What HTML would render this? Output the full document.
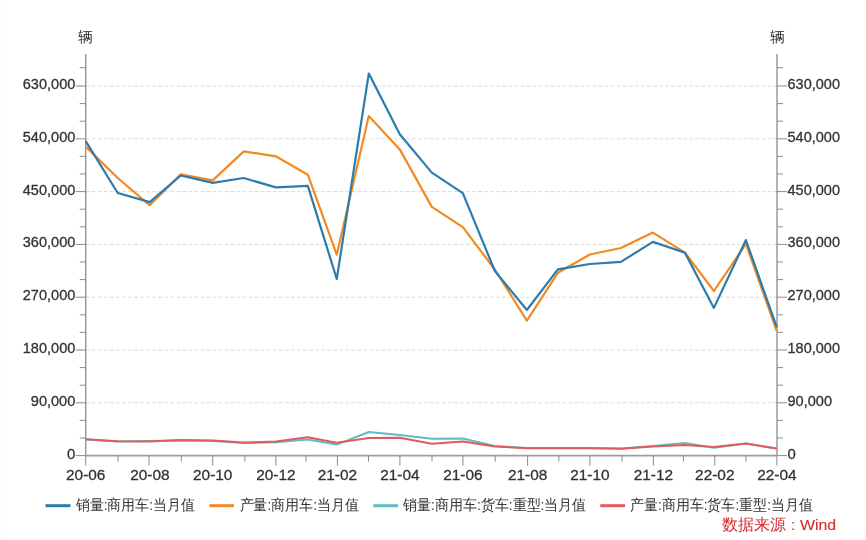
<!DOCTYPE html><html><head><meta charset="utf-8"><style>html,body{margin:0;padding:0;background:#fff;width:866px;height:540px;overflow:hidden}svg{display:block;will-change:transform}text{font-family:"Liberation Sans",sans-serif;fill:#333;stroke:#333;stroke-width:0.3}</style></head><body>
<svg width="866" height="540" viewBox="0 0 866 540">
<rect width="866" height="540" fill="#fff"/><rect x="0" y="0" width="1" height="540" fill="#fafbfd"/>
<line x1="85.7" y1="402.80" x2="777.0" y2="402.80" stroke="#dcdcdc" stroke-width="1" stroke-dasharray="4 2.035"/>
<line x1="85.7" y1="350.00" x2="777.0" y2="350.00" stroke="#dcdcdc" stroke-width="1" stroke-dasharray="4 2.035"/>
<line x1="85.7" y1="297.20" x2="777.0" y2="297.20" stroke="#dcdcdc" stroke-width="1" stroke-dasharray="4 2.035"/>
<line x1="85.7" y1="244.40" x2="777.0" y2="244.40" stroke="#dcdcdc" stroke-width="1" stroke-dasharray="4 2.035"/>
<line x1="85.7" y1="191.60" x2="777.0" y2="191.60" stroke="#dcdcdc" stroke-width="1" stroke-dasharray="4 2.035"/>
<line x1="85.7" y1="138.80" x2="777.0" y2="138.80" stroke="#dcdcdc" stroke-width="1" stroke-dasharray="4 2.035"/>
<line x1="85.7" y1="86.00" x2="777.0" y2="86.00" stroke="#dcdcdc" stroke-width="1" stroke-dasharray="4 2.035"/>
<line x1="85.7" y1="54" x2="85.7" y2="455.6" stroke="#8c8c8c" stroke-width="1.3"/>
<line x1="777.0" y1="54" x2="777.0" y2="455.6" stroke="#8c8c8c" stroke-width="1.3"/>
<line x1="85.7" y1="455.65000000000003" x2="777.0" y2="455.65000000000003" stroke="#9c9c9c" stroke-width="1.7"/>
<line x1="75.7" y1="455.60" x2="85.7" y2="455.60" stroke="#8c8c8c" stroke-width="1"/>
<line x1="777.0" y1="455.60" x2="787.0" y2="455.60" stroke="#8c8c8c" stroke-width="1"/>
<text x="67.00" y="458.60" font-size="15" textLength="8.3" lengthAdjust="spacingAndGlyphs">0</text>
<text x="787.5" y="458.60" font-size="15" textLength="8.3" lengthAdjust="spacingAndGlyphs">0</text>
<line x1="79.7" y1="438.00" x2="85.7" y2="438.00" stroke="#8c8c8c" stroke-width="1"/>
<line x1="777.0" y1="438.00" x2="783.0" y2="438.00" stroke="#8c8c8c" stroke-width="1"/>
<line x1="79.7" y1="420.40" x2="85.7" y2="420.40" stroke="#8c8c8c" stroke-width="1"/>
<line x1="777.0" y1="420.40" x2="783.0" y2="420.40" stroke="#8c8c8c" stroke-width="1"/>
<line x1="75.7" y1="402.80" x2="85.7" y2="402.80" stroke="#8c8c8c" stroke-width="1"/>
<line x1="777.0" y1="402.80" x2="787.0" y2="402.80" stroke="#8c8c8c" stroke-width="1"/>
<text x="30.80" y="405.80" font-size="15" textLength="44.5" lengthAdjust="spacingAndGlyphs">90,000</text>
<text x="787.5" y="405.80" font-size="15" textLength="44.5" lengthAdjust="spacingAndGlyphs">90,000</text>
<line x1="79.7" y1="385.20" x2="85.7" y2="385.20" stroke="#8c8c8c" stroke-width="1"/>
<line x1="777.0" y1="385.20" x2="783.0" y2="385.20" stroke="#8c8c8c" stroke-width="1"/>
<line x1="79.7" y1="367.60" x2="85.7" y2="367.60" stroke="#8c8c8c" stroke-width="1"/>
<line x1="777.0" y1="367.60" x2="783.0" y2="367.60" stroke="#8c8c8c" stroke-width="1"/>
<line x1="75.7" y1="350.00" x2="85.7" y2="350.00" stroke="#8c8c8c" stroke-width="1"/>
<line x1="777.0" y1="350.00" x2="787.0" y2="350.00" stroke="#8c8c8c" stroke-width="1"/>
<text x="22.80" y="353.00" font-size="15" textLength="52.5" lengthAdjust="spacingAndGlyphs">180,000</text>
<text x="787.5" y="353.00" font-size="15" textLength="52.5" lengthAdjust="spacingAndGlyphs">180,000</text>
<line x1="79.7" y1="332.40" x2="85.7" y2="332.40" stroke="#8c8c8c" stroke-width="1"/>
<line x1="777.0" y1="332.40" x2="783.0" y2="332.40" stroke="#8c8c8c" stroke-width="1"/>
<line x1="79.7" y1="314.80" x2="85.7" y2="314.80" stroke="#8c8c8c" stroke-width="1"/>
<line x1="777.0" y1="314.80" x2="783.0" y2="314.80" stroke="#8c8c8c" stroke-width="1"/>
<line x1="75.7" y1="297.20" x2="85.7" y2="297.20" stroke="#8c8c8c" stroke-width="1"/>
<line x1="777.0" y1="297.20" x2="787.0" y2="297.20" stroke="#8c8c8c" stroke-width="1"/>
<text x="22.80" y="300.20" font-size="15" textLength="52.5" lengthAdjust="spacingAndGlyphs">270,000</text>
<text x="787.5" y="300.20" font-size="15" textLength="52.5" lengthAdjust="spacingAndGlyphs">270,000</text>
<line x1="79.7" y1="279.60" x2="85.7" y2="279.60" stroke="#8c8c8c" stroke-width="1"/>
<line x1="777.0" y1="279.60" x2="783.0" y2="279.60" stroke="#8c8c8c" stroke-width="1"/>
<line x1="79.7" y1="262.00" x2="85.7" y2="262.00" stroke="#8c8c8c" stroke-width="1"/>
<line x1="777.0" y1="262.00" x2="783.0" y2="262.00" stroke="#8c8c8c" stroke-width="1"/>
<line x1="75.7" y1="244.40" x2="85.7" y2="244.40" stroke="#8c8c8c" stroke-width="1"/>
<line x1="777.0" y1="244.40" x2="787.0" y2="244.40" stroke="#8c8c8c" stroke-width="1"/>
<text x="22.80" y="247.40" font-size="15" textLength="52.5" lengthAdjust="spacingAndGlyphs">360,000</text>
<text x="787.5" y="247.40" font-size="15" textLength="52.5" lengthAdjust="spacingAndGlyphs">360,000</text>
<line x1="79.7" y1="226.80" x2="85.7" y2="226.80" stroke="#8c8c8c" stroke-width="1"/>
<line x1="777.0" y1="226.80" x2="783.0" y2="226.80" stroke="#8c8c8c" stroke-width="1"/>
<line x1="79.7" y1="209.20" x2="85.7" y2="209.20" stroke="#8c8c8c" stroke-width="1"/>
<line x1="777.0" y1="209.20" x2="783.0" y2="209.20" stroke="#8c8c8c" stroke-width="1"/>
<line x1="75.7" y1="191.60" x2="85.7" y2="191.60" stroke="#8c8c8c" stroke-width="1"/>
<line x1="777.0" y1="191.60" x2="787.0" y2="191.60" stroke="#8c8c8c" stroke-width="1"/>
<text x="22.80" y="194.60" font-size="15" textLength="52.5" lengthAdjust="spacingAndGlyphs">450,000</text>
<text x="787.5" y="194.60" font-size="15" textLength="52.5" lengthAdjust="spacingAndGlyphs">450,000</text>
<line x1="79.7" y1="174.00" x2="85.7" y2="174.00" stroke="#8c8c8c" stroke-width="1"/>
<line x1="777.0" y1="174.00" x2="783.0" y2="174.00" stroke="#8c8c8c" stroke-width="1"/>
<line x1="79.7" y1="156.40" x2="85.7" y2="156.40" stroke="#8c8c8c" stroke-width="1"/>
<line x1="777.0" y1="156.40" x2="783.0" y2="156.40" stroke="#8c8c8c" stroke-width="1"/>
<line x1="75.7" y1="138.80" x2="85.7" y2="138.80" stroke="#8c8c8c" stroke-width="1"/>
<line x1="777.0" y1="138.80" x2="787.0" y2="138.80" stroke="#8c8c8c" stroke-width="1"/>
<text x="22.80" y="141.80" font-size="15" textLength="52.5" lengthAdjust="spacingAndGlyphs">540,000</text>
<text x="787.5" y="141.80" font-size="15" textLength="52.5" lengthAdjust="spacingAndGlyphs">540,000</text>
<line x1="79.7" y1="121.20" x2="85.7" y2="121.20" stroke="#8c8c8c" stroke-width="1"/>
<line x1="777.0" y1="121.20" x2="783.0" y2="121.20" stroke="#8c8c8c" stroke-width="1"/>
<line x1="79.7" y1="103.60" x2="85.7" y2="103.60" stroke="#8c8c8c" stroke-width="1"/>
<line x1="777.0" y1="103.60" x2="783.0" y2="103.60" stroke="#8c8c8c" stroke-width="1"/>
<line x1="75.7" y1="86.00" x2="85.7" y2="86.00" stroke="#8c8c8c" stroke-width="1"/>
<line x1="777.0" y1="86.00" x2="787.0" y2="86.00" stroke="#8c8c8c" stroke-width="1"/>
<text x="22.80" y="89.00" font-size="15" textLength="52.5" lengthAdjust="spacingAndGlyphs">630,000</text>
<text x="787.5" y="89.00" font-size="15" textLength="52.5" lengthAdjust="spacingAndGlyphs">630,000</text>
<line x1="79.7" y1="67.70" x2="85.7" y2="67.70" stroke="#8c8c8c" stroke-width="1"/>
<line x1="777.0" y1="67.70" x2="783.0" y2="67.70" stroke="#8c8c8c" stroke-width="1"/>
<line x1="85.70" y1="455.6" x2="85.70" y2="465.6" stroke="#8c8c8c" stroke-width="1"/>
<text x="66.00" y="480" font-size="15.5" textLength="39.4" lengthAdjust="spacingAndGlyphs">20-06</text>
<line x1="118.00" y1="455.6" x2="118.00" y2="461.6" stroke="#8c8c8c" stroke-width="1"/>
<line x1="149.00" y1="455.6" x2="149.00" y2="465.6" stroke="#8c8c8c" stroke-width="1"/>
<text x="130.20" y="480" font-size="15.5" textLength="39.4" lengthAdjust="spacingAndGlyphs">20-08</text>
<line x1="181.30" y1="455.6" x2="181.30" y2="461.6" stroke="#8c8c8c" stroke-width="1"/>
<line x1="212.70" y1="455.6" x2="212.70" y2="465.6" stroke="#8c8c8c" stroke-width="1"/>
<text x="193.00" y="480" font-size="15.5" textLength="39.4" lengthAdjust="spacingAndGlyphs">20-10</text>
<line x1="244.90" y1="455.6" x2="244.90" y2="461.6" stroke="#8c8c8c" stroke-width="1"/>
<line x1="275.90" y1="455.6" x2="275.90" y2="465.6" stroke="#8c8c8c" stroke-width="1"/>
<text x="256.20" y="480" font-size="15.5" textLength="39.4" lengthAdjust="spacingAndGlyphs">20-12</text>
<line x1="306.05" y1="455.6" x2="306.05" y2="461.6" stroke="#8c8c8c" stroke-width="1"/>
<line x1="337.40" y1="455.6" x2="337.40" y2="465.6" stroke="#8c8c8c" stroke-width="1"/>
<text x="317.70" y="480" font-size="15.5" textLength="39.4" lengthAdjust="spacingAndGlyphs">21-02</text>
<line x1="368.50" y1="455.6" x2="368.50" y2="461.6" stroke="#8c8c8c" stroke-width="1"/>
<line x1="399.90" y1="455.6" x2="399.90" y2="465.6" stroke="#8c8c8c" stroke-width="1"/>
<text x="380.20" y="480" font-size="15.5" textLength="39.4" lengthAdjust="spacingAndGlyphs">21-04</text>
<line x1="432.00" y1="455.6" x2="432.00" y2="461.6" stroke="#8c8c8c" stroke-width="1"/>
<line x1="462.90" y1="455.6" x2="462.90" y2="465.6" stroke="#8c8c8c" stroke-width="1"/>
<text x="443.20" y="480" font-size="15.5" textLength="39.4" lengthAdjust="spacingAndGlyphs">21-06</text>
<line x1="495.20" y1="455.6" x2="495.20" y2="461.6" stroke="#8c8c8c" stroke-width="1"/>
<line x1="527.60" y1="455.6" x2="527.60" y2="465.6" stroke="#8c8c8c" stroke-width="1"/>
<text x="507.90" y="480" font-size="15.5" textLength="39.4" lengthAdjust="spacingAndGlyphs">21-08</text>
<line x1="558.90" y1="455.6" x2="558.90" y2="461.6" stroke="#8c8c8c" stroke-width="1"/>
<line x1="589.90" y1="455.6" x2="589.90" y2="465.6" stroke="#8c8c8c" stroke-width="1"/>
<text x="570.20" y="480" font-size="15.5" textLength="39.4" lengthAdjust="spacingAndGlyphs">21-10</text>
<line x1="622.00" y1="455.6" x2="622.00" y2="461.6" stroke="#8c8c8c" stroke-width="1"/>
<line x1="653.40" y1="455.6" x2="653.40" y2="465.6" stroke="#8c8c8c" stroke-width="1"/>
<text x="633.70" y="480" font-size="15.5" textLength="39.4" lengthAdjust="spacingAndGlyphs">21-12</text>
<line x1="683.40" y1="455.6" x2="683.40" y2="461.6" stroke="#8c8c8c" stroke-width="1"/>
<line x1="714.80" y1="455.6" x2="714.80" y2="465.6" stroke="#8c8c8c" stroke-width="1"/>
<text x="695.10" y="480" font-size="15.5" textLength="39.4" lengthAdjust="spacingAndGlyphs">22-02</text>
<line x1="745.90" y1="455.6" x2="745.90" y2="461.6" stroke="#8c8c8c" stroke-width="1"/>
<line x1="776.90" y1="455.6" x2="776.90" y2="465.6" stroke="#8c8c8c" stroke-width="1"/>
<text x="757.20" y="480" font-size="15.5" textLength="39.4" lengthAdjust="spacingAndGlyphs">22-04</text>
<text x="85.7" y="41.5" font-size="15" text-anchor="middle" style="stroke-width:0">辆</text>
<text x="777.0" y="41.5" font-size="15" text-anchor="middle" style="stroke-width:0">辆</text>
<polyline points="85.70,439.60 117.73,441.50 149.76,441.00 180.75,440.40 212.78,441.00 243.78,443.00 275.81,442.20 307.83,439.40 336.76,444.60 368.79,432.00 399.79,435.00 431.82,438.70 462.81,438.50 494.84,446.00 526.87,448.00 557.87,448.00 589.89,448.00 620.89,448.50 652.92,446.00 684.95,443.10 713.88,447.80 745.90,443.60 776.90,448.50" fill="none" stroke="#5fbdbf" stroke-width="2.0" stroke-linejoin="round"/>
<polyline points="85.70,439.30 117.73,441.30 149.76,441.60 180.75,440.00 212.78,440.50 243.78,442.60 275.81,441.50 307.83,437.20 336.76,442.70 368.79,438.10 399.79,437.70 431.82,443.80 462.81,441.40 494.84,446.40 526.87,448.30 557.87,448.30 589.89,448.30 620.89,448.80 652.92,446.40 684.95,444.90 713.88,447.00 745.90,443.60 776.90,448.50" fill="none" stroke="#e35a5d" stroke-width="2.0" stroke-linejoin="round"/>
<polyline points="85.70,146.60 117.73,178.00 149.76,205.30 180.75,174.30 212.78,180.40 243.78,151.40 275.81,156.30 307.83,174.70 336.76,254.70 368.79,116.00 399.79,149.40 431.82,206.90 462.81,227.20 494.84,269.50 526.87,320.60 557.87,272.80 589.89,254.50 620.89,248.00 652.92,232.60 684.95,252.60 713.88,291.00 745.90,243.90 776.90,331.50" fill="none" stroke="#f28a22" stroke-width="2.2" stroke-linejoin="round"/>
<polyline points="85.70,141.10 117.73,193.00 149.76,202.10 180.75,175.50 212.78,182.90 243.78,178.00 275.81,187.40 307.83,185.80 336.76,279.00 368.79,73.60 399.79,134.20 431.82,172.60 462.81,193.10 494.84,271.00 526.87,310.00 557.87,269.40 589.89,264.00 620.89,261.90 652.92,241.90 684.95,252.80 713.88,307.90 745.90,240.00 776.90,327.50" fill="none" stroke="#2b7cab" stroke-width="2.2" stroke-linejoin="round"/>
<line x1="45.5" y1="505.7" x2="70.5" y2="505.7" stroke="#2b7cab" stroke-width="3"/>
<text x="75.8" y="509.8" font-size="14.5" textLength="119" lengthAdjust="spacingAndGlyphs" style="stroke-width:0">销量:商用车:当月值</text>
<line x1="209.5" y1="505.7" x2="234" y2="505.7" stroke="#f28a22" stroke-width="3"/>
<text x="239.5" y="509.8" font-size="14.5" textLength="119.5" lengthAdjust="spacingAndGlyphs" style="stroke-width:0">产量:商用车:当月值</text>
<line x1="373.3" y1="505.7" x2="398" y2="505.7" stroke="#5fbdbf" stroke-width="3"/>
<text x="403" y="509.8" font-size="14.5" textLength="183.5" lengthAdjust="spacingAndGlyphs" style="stroke-width:0">销量:商用车:货车:重型:当月值</text>
<line x1="600.3" y1="505.7" x2="625" y2="505.7" stroke="#e35a5d" stroke-width="3"/>
<text x="630" y="509.8" font-size="14.5" textLength="183" lengthAdjust="spacingAndGlyphs" style="stroke-width:0">产量:商用车:货车:重型:当月值</text>
<text x="722" y="529.8" font-size="16" style="fill:#d62a30;stroke-width:0">数据来源</text>
<text x="793" y="529.6" font-size="15" text-anchor="middle" style="fill:#d62a30;stroke:#d62a30;stroke-width:0.1">:</text>
<text x="800" y="529.6" font-size="15.2" textLength="36.2" lengthAdjust="spacingAndGlyphs" style="fill:#d62a30;stroke:#d62a30;stroke-width:0.1">Wind</text>
</svg></body></html>
